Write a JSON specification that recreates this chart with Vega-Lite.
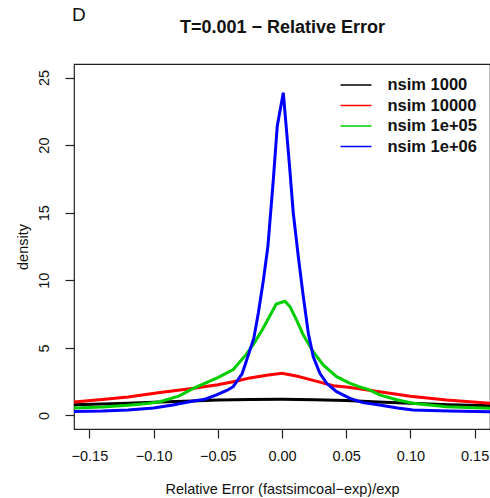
{
  "$schema": "https://vega.github.io/schema/vega-lite/v6.json",
  "width": 416,
  "height": 365,
  "autosize": {"type": "none"},
  "padding": {"left": 74, "top": 64, "right": 0, "bottom": 69},
  "background": "white",
  "config": {
    "font": "Liberation Sans",
    "view": {"stroke": "#222222", "strokeWidth": 1.2},
    "axis": {"grid": false, "domain": false, "tickColor": "#222222", "tickSize": 9, "tickWidth": 1.2, "labelFontSize": 14.5, "labelColor": "#111111", "titleFontSize": 14.5, "titleFontWeight": "normal", "titleColor": "#111111"}
  },
  "title": {"text": "D", "anchor": "start", "frame": "group", "fontSize": 19, "fontWeight": "normal", "color": "#111111", "offset": 0, "dy": 7, "dx": -2},
  "data": {"values": [
    {"series": "nsim 1000", "x": -0.162, "density": 0.80},
    {"series": "nsim 1000", "x": -0.14, "density": 0.85},
    {"series": "nsim 1000", "x": -0.12, "density": 0.90},
    {"series": "nsim 1000", "x": -0.095, "density": 1.00},
    {"series": "nsim 1000", "x": -0.07, "density": 1.08},
    {"series": "nsim 1000", "x": -0.05, "density": 1.14},
    {"series": "nsim 1000", "x": -0.025, "density": 1.18},
    {"series": "nsim 1000", "x": 0.0, "density": 1.20},
    {"series": "nsim 1000", "x": 0.025, "density": 1.17},
    {"series": "nsim 1000", "x": 0.05, "density": 1.10},
    {"series": "nsim 1000", "x": 0.075, "density": 1.00},
    {"series": "nsim 1000", "x": 0.10, "density": 0.90},
    {"series": "nsim 1000", "x": 0.13, "density": 0.80},
    {"series": "nsim 1000", "x": 0.162, "density": 0.72},

    {"series": "nsim 10000", "x": -0.162, "density": 1.00},
    {"series": "nsim 10000", "x": -0.14, "density": 1.18},
    {"series": "nsim 10000", "x": -0.12, "density": 1.36},
    {"series": "nsim 10000", "x": -0.095, "density": 1.70},
    {"series": "nsim 10000", "x": -0.07, "density": 2.00},
    {"series": "nsim 10000", "x": -0.05, "density": 2.27},
    {"series": "nsim 10000", "x": -0.035, "density": 2.55},
    {"series": "nsim 10000", "x": -0.025, "density": 2.78},
    {"series": "nsim 10000", "x": -0.012, "density": 2.98},
    {"series": "nsim 10000", "x": 0.0, "density": 3.12},
    {"series": "nsim 10000", "x": 0.012, "density": 2.90},
    {"series": "nsim 10000", "x": 0.025, "density": 2.58},
    {"series": "nsim 10000", "x": 0.04, "density": 2.20},
    {"series": "nsim 10000", "x": 0.05, "density": 2.10},
    {"series": "nsim 10000", "x": 0.06, "density": 1.98},
    {"series": "nsim 10000", "x": 0.076, "density": 1.76},
    {"series": "nsim 10000", "x": 0.10, "density": 1.42},
    {"series": "nsim 10000", "x": 0.128, "density": 1.15},
    {"series": "nsim 10000", "x": 0.162, "density": 0.90},

    {"series": "nsim 1e+05", "x": -0.162, "density": 0.55},
    {"series": "nsim 1e+05", "x": -0.14, "density": 0.62},
    {"series": "nsim 1e+05", "x": -0.12, "density": 0.75},
    {"series": "nsim 1e+05", "x": -0.105, "density": 0.88},
    {"series": "nsim 1e+05", "x": -0.095, "density": 1.02},
    {"series": "nsim 1e+05", "x": -0.08, "density": 1.45},
    {"series": "nsim 1e+05", "x": -0.069, "density": 2.00},
    {"series": "nsim 1e+05", "x": -0.05, "density": 2.80},
    {"series": "nsim 1e+05", "x": -0.038, "density": 3.40},
    {"series": "nsim 1e+05", "x": -0.028, "density": 4.50},
    {"series": "nsim 1e+05", "x": -0.022, "density": 5.30},
    {"series": "nsim 1e+05", "x": -0.015, "density": 6.40},
    {"series": "nsim 1e+05", "x": -0.009, "density": 7.45},
    {"series": "nsim 1e+05", "x": -0.0045, "density": 8.25},
    {"series": "nsim 1e+05", "x": 0.0023, "density": 8.45},
    {"series": "nsim 1e+05", "x": 0.0062, "density": 8.05},
    {"series": "nsim 1e+05", "x": 0.0114, "density": 7.06},
    {"series": "nsim 1e+05", "x": 0.0166, "density": 5.95},
    {"series": "nsim 1e+05", "x": 0.0243, "density": 4.72},
    {"series": "nsim 1e+05", "x": 0.0321, "density": 3.74},
    {"series": "nsim 1e+05", "x": 0.0425, "density": 2.87},
    {"series": "nsim 1e+05", "x": 0.053, "density": 2.38},
    {"series": "nsim 1e+05", "x": 0.06, "density": 2.13},
    {"series": "nsim 1e+05", "x": 0.068, "density": 1.89},
    {"series": "nsim 1e+05", "x": 0.076, "density": 1.52},
    {"series": "nsim 1e+05", "x": 0.09, "density": 1.15},
    {"series": "nsim 1e+05", "x": 0.102, "density": 0.90},
    {"series": "nsim 1e+05", "x": 0.128, "density": 0.65},
    {"series": "nsim 1e+05", "x": 0.162, "density": 0.53},

    {"series": "nsim 1e+06", "x": -0.162, "density": 0.30},
    {"series": "nsim 1e+06", "x": -0.14, "density": 0.33},
    {"series": "nsim 1e+06", "x": -0.12, "density": 0.40},
    {"series": "nsim 1e+06", "x": -0.10, "density": 0.56},
    {"series": "nsim 1e+06", "x": -0.085, "density": 0.78},
    {"series": "nsim 1e+06", "x": -0.07, "density": 1.05},
    {"series": "nsim 1e+06", "x": -0.06, "density": 1.20},
    {"series": "nsim 1e+06", "x": -0.051, "density": 1.52},
    {"series": "nsim 1e+06", "x": -0.043, "density": 1.85},
    {"series": "nsim 1e+06", "x": -0.038, "density": 2.13},
    {"series": "nsim 1e+06", "x": -0.031, "density": 3.10},
    {"series": "nsim 1e+06", "x": -0.0275, "density": 4.10},
    {"series": "nsim 1e+06", "x": -0.022, "density": 5.70},
    {"series": "nsim 1e+06", "x": -0.0184, "density": 7.60},
    {"series": "nsim 1e+06", "x": -0.0145, "density": 10.0},
    {"series": "nsim 1e+06", "x": -0.011, "density": 12.5},
    {"series": "nsim 1e+06", "x": -0.0068, "density": 17.4},
    {"series": "nsim 1e+06", "x": -0.0037, "density": 21.4},
    {"series": "nsim 1e+06", "x": 0.001, "density": 23.88},
    {"series": "nsim 1e+06", "x": 0.0057, "density": 18.65},
    {"series": "nsim 1e+06", "x": 0.0088, "density": 14.96},
    {"series": "nsim 1e+06", "x": 0.0127, "density": 11.75},
    {"series": "nsim 1e+06", "x": 0.0166, "density": 8.79},
    {"series": "nsim 1e+06", "x": 0.0205, "density": 6.08},
    {"series": "nsim 1e+06", "x": 0.0243, "density": 4.35},
    {"series": "nsim 1e+06", "x": 0.0295, "density": 3.12},
    {"series": "nsim 1e+06", "x": 0.0348, "density": 2.38},
    {"series": "nsim 1e+06", "x": 0.0425, "density": 1.76},
    {"series": "nsim 1e+06", "x": 0.053, "density": 1.27},
    {"series": "nsim 1e+06", "x": 0.063, "density": 0.95},
    {"series": "nsim 1e+06", "x": 0.076, "density": 0.78},
    {"series": "nsim 1e+06", "x": 0.09, "density": 0.55},
    {"series": "nsim 1e+06", "x": 0.102, "density": 0.41},
    {"series": "nsim 1e+06", "x": 0.13, "density": 0.33},
    {"series": "nsim 1e+06", "x": 0.162, "density": 0.28}
  ]},
  "layer": [
    {
      "mark": {"type": "line", "strokeWidth": 3, "clip": true},
      "encoding": {
        "x": {"field": "x", "type": "quantitative",
          "scale": {"domain": [-0.162, 0.162], "nice": false, "zero": false},
          "axis": {"orient": "bottom", "values": [-0.15, -0.1, -0.05, 0, 0.05, 0.1, 0.15], "labelExpr": "replace(format(datum.value, '.2f'), '-', '\u2212')", "labelPadding": 11, "title": "Relative Error (fastsimcoal\u2212exp)/exp", "titlePadding": 20, "labelFlush": false, "labelOverlap": false}},
        "y": {"field": "density", "type": "quantitative",
          "scale": {"domain": [-1, 26], "nice": false, "zero": false},
          "axis": {"values": [0, 5, 10, 15, 20, 25], "labelAngle": 270, "labelAlign": "center", "labelBaseline": "middle", "labelPadding": 21, "title": "density", "titleAngle": 270, "titleAlign": "center", "titleBaseline": "middle", "titleX": -51, "titleY": 182.5, "labelFlush": false}},
        "color": {"field": "series", "type": "nominal",
          "scale": {"domain": ["nsim 1000", "nsim 10000", "nsim 1e+05", "nsim 1e+06"], "range": ["#000000", "#FF0000", "#00CD00", "#0000FF"]},
          "legend": {"title": null, "orient": "none", "legendX": 265.5, "legendY": 11, "padding": 0, "symbolType": "stroke", "symbolSize": 961, "symbolStrokeWidth": 1.3, "labelFontSize": 16.5, "labelFontWeight": "bold", "labelColor": "#111111", "labelOffset": 15, "clipHeight": 20, "rowPadding": 0.5,
            "encode": {"symbols": {"update": {"strokeWidth": {"value": 1.3}}}}}}
      }
    },
    {
      "mark": {"type": "point", "opacity": 0},
      "encoding": {
        "x": {"field": "x", "type": "quantitative",
          "axis": {"orient": "top", "ticks": false, "labels": false, "domain": false, "title": "T=0.001 \u2212 Relative Error", "titleFontSize": 18, "titleFontWeight": "bold", "titlePadding": 28}},
        "y": {"field": "density", "type": "quantitative", "axis": null}
      }
    }
  ],
  "resolve": {"axis": {"x": "independent", "y": "independent"}}
}
